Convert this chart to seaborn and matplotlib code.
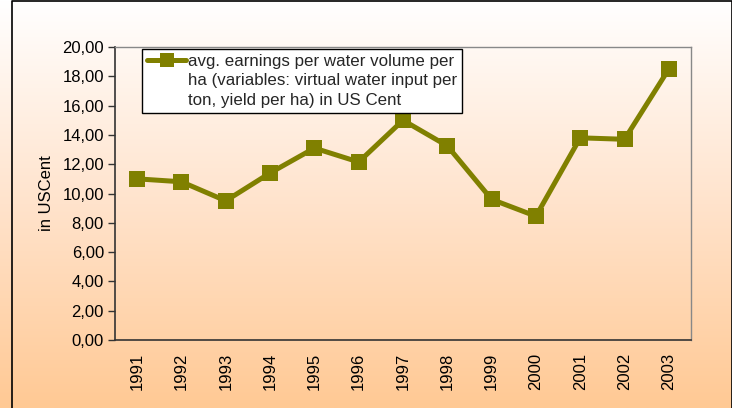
import numpy as np
import pandas as pd
import matplotlib
matplotlib.use("Agg")
import matplotlib.pyplot as plt
import seaborn as sns
from matplotlib.colors import LinearSegmentedColormap
from matplotlib.lines import Line2D

years = ["1991", "1992", "1993", "1994", "1995", "1996", "1997",
         "1998", "1999", "2000", "2001", "2002", "2003"]
earnings = [11.0, 10.8, 9.5, 11.4, 13.1, 12.15, 15.0, 13.25, 9.6, 8.45, 13.8, 13.7, 18.5]
label_lines = ["avg. earnings per water volume per",
               "ha (variables: virtual water input per",
               "ton, yield per ha) in US Cent"]
yticks = [0, 2, 4, 6, 8, 10, 12, 14, 16, 18, 20]

sns.set_theme(style="white")
plt.rcParams['font.family'] = ['Liberation Sans', 'DejaVu Sans']
FS = 12

W, H = 732, 408
fig = plt.figure(figsize=(W / 100, H / 100), dpi=100)

# gradient background
bg = fig.add_axes([0, 0, 1, 1], zorder=0)
cmap = LinearSegmentedColormap.from_list("g", ["#FFFFFF", "#FFE3CC", "#FFC994"])
grad = np.linspace(0, 1, 256).reshape(-1, 1)
bg.imshow(grad, aspect="auto", cmap=cmap, extent=[0, 1, 0, 1], origin="upper")
bg.set_xlim(0, 1); bg.set_ylim(0, 1)
bg.axis("off")
bg.plot([12 / W, 12 / W, 1, 1], [0, 1 - 1 / H, 1 - 1 / H, 0], color="black", lw=1.2,
        transform=bg.transAxes, clip_on=False)

left, right, top, bottom = 115, 691, 47, 340
ax = fig.add_axes([left / W, 1 - bottom / H, (right - left) / W, (bottom - top) / H], zorder=1)
ax.patch.set_alpha(0)

df = pd.DataFrame({"year": years, "value": earnings})
x = np.arange(len(years))
sns.lineplot(x=x, y=df["value"], ax=ax, color="#808000", lw=3.6, marker="s",
             markersize=11.5, markeredgewidth=0, legend=False)

ax.set_xlim(-0.5, len(years) - 0.5)
ax.set_ylim(0, 20)
ax.set_yticks(yticks)
ax.set_yticklabels([f"{v:.2f}".replace(".", ",") for v in yticks], fontsize=FS, color="black")
ax.set_xticks(x)
ax.set_xticklabels(years, rotation=90, fontsize=FS, color="black")
ax.set_xticks(np.arange(-0.5, len(years)), minor=True)
ax.tick_params(axis="x", which="major", length=0, pad=9)
ax.tick_params(axis="x", which="minor", length=5, width=1, color="#333333", direction="out")
ax.tick_params(axis="y", length=5, width=1, color="#333333", direction="out", left=True, pad=3)
ax.set_ylabel("in USCent", fontsize=FS, color="black", labelpad=6)
ax.set_xlabel("")
for s in ["left", "bottom"]:
    ax.spines[s].set_color("#333333"); ax.spines[s].set_linewidth(1.2)
for s in ["top", "right"]:
    ax.spines[s].set_color("#888888"); ax.spines[s].set_linewidth(1.0)

line_handle = ax.get_lines()[0]
h0 = Line2D([], [], color=line_handle.get_color(), lw=3.6, marker="s",
            markersize=10, markeredgewidth=0)
blank = Line2D([], [], color="none", lw=0)
leg = ax.legend([h0, blank, blank], label_lines, loc="upper left",
                bbox_to_anchor=(0.047, 0.993), fontsize=12.2,
                frameon=True, fancybox=False, framealpha=1, edgecolor="black",
                handlelength=2.3, handletextpad=0.12, borderpad=0.3, labelspacing=0.25,
                borderaxespad=0, handleheight=0.7)
leg.get_frame().set_linewidth(1.0)

fig.savefig("out.png", dpi=100)
